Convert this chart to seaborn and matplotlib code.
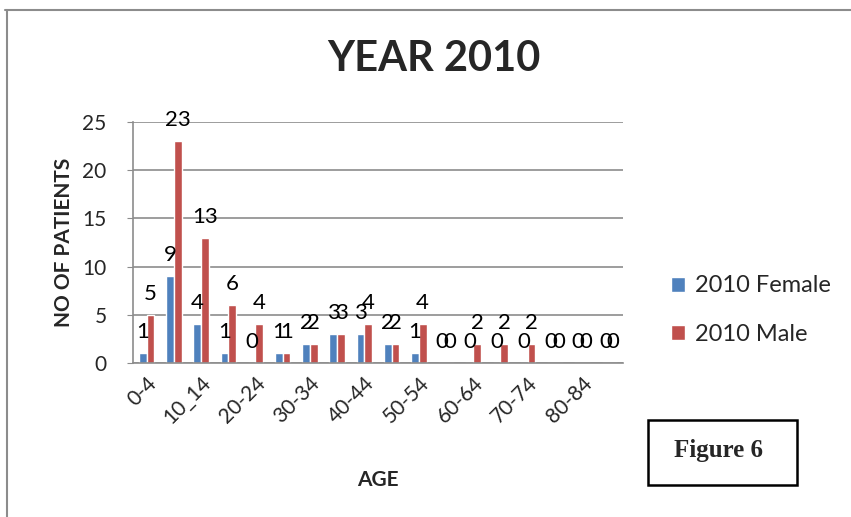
import matplotlib
matplotlib.use('Agg')
import matplotlib.pyplot as plt
from matplotlib.lines import Line2D
from matplotlib.patches import Rectangle
import seaborn as sns
import pandas as pd

# age groups (only every other one is labelled on the axis)
age_groups = ['0-4', '5-9', '10_14', '15-19', '20-24', '25-29', '30-34', '35-39',
              '40-44', '45-49', '50-54', '55-59', '60-64', '65-69', '70-74',
              '75-79', '80-84', '85+']
female = [1, 9, 4, 1, 0, 1, 2, 3, 3, 2, 1, 0, 0, 0, 0, 0, 0, 0]
male = [5, 23, 13, 6, 4, 1, 2, 3, 4, 2, 4, 0, 2, 2, 2, 0, 0, 0]
series = ['2010 Female', '2010 Male']
colors = ['#4F81BD', '#C0504D']

df = pd.DataFrame({
    'age': age_groups * 2,
    'patients': female + male,
    'series': [series[0]] * len(age_groups) + [series[1]] * len(age_groups),
})

sns.set_style('white')
plt.rcParams['font.family'] = ['Lato', 'DejaVu Sans']

fig = plt.figure(figsize=(8.51, 5.17), dpi=100)
ax = fig.add_axes([0.1563, 0.2979, 0.732 - 0.1563, 0.764 - 0.2979])

sns.barplot(data=df, x='age', y='patients', hue='series', palette=colors,
            width=0.571, saturation=1, ax=ax, legend=True)

for cont in ax.containers:
    ax.bar_label(cont, padding=8, fontsize=16, color='black')

ax.set_ylim(0, 25)
ax.set_xlim(-0.5, len(age_groups) - 0.5)
ax.set_yticks([0, 5, 10, 15, 20, 25])
ax.yaxis.grid(True, color='#8c8c8c', linewidth=1.2)
ax.set_axisbelow(True)
ax.set_xticks(range(0, len(age_groups), 2))
ax.set_xticklabels(age_groups[::2], rotation=45, ha='right', rotation_mode='anchor',
                   fontsize=15)
ax.tick_params(axis='x', length=0, pad=7)
ax.tick_params(axis='y', labelsize=15, length=4, color='#8c8c8c', pad=15, left=True)

for side in ['top', 'right']:
    ax.spines[side].set_visible(False)
for side in ['left', 'bottom']:
    ax.spines[side].set_color('#8c8c8c')
    ax.spines[side].set_linewidth(1.2)

ax.set_xlabel('AGE', fontsize=15, fontweight='bold', labelpad=30)
ax.set_ylabel('NO OF PATIENTS', fontsize=15, fontweight='bold', labelpad=6)
fig.text(0.51, 0.885, 'YEAR 2010', ha='center', va='center', fontsize=30,
         fontweight='bold')

ax.legend(loc='center left', bbox_to_anchor=(1.055, 0.22), frameon=False,
          fontsize=17, handlelength=0.6, handleheight=0.6, handletextpad=0.4,
          labelspacing=1.15)

# outer chart frame (top and left edges visible)
fig.add_artist(Line2D([0.006, 1.0], [0.98, 0.98], color='#8c8c8c', linewidth=1.5,
                      transform=fig.transFigure))
fig.add_artist(Line2D([0.008, 0.008], [0.0, 0.98], color='#8c8c8c', linewidth=1.5,
                      transform=fig.transFigure))

# "Figure 6" box
fig.add_artist(Rectangle((648 / 851, 1 - 485 / 517), 149 / 851, 65 / 517,
                         fill=False, edgecolor='black', linewidth=1.8,
                         transform=fig.transFigure))
fig.text(718 / 851, 1 - 450 / 517, 'Figure 6', ha='center', va='center',
         fontsize=18, fontweight='bold', family='Liberation Serif')

fig.savefig('out.png', dpi=100)
